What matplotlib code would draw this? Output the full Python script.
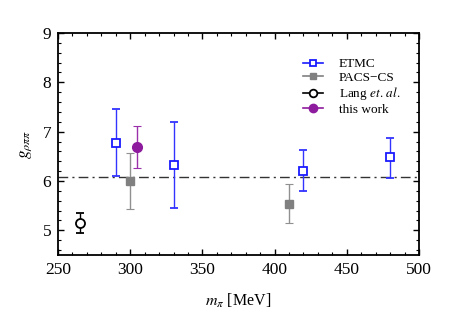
import matplotlib
matplotlib.use("Agg")
import matplotlib.pyplot as plt
from matplotlib.ticker import MultipleLocator
from matplotlib.lines import Line2D

plt.rcParams['font.family'] = ['Liberation Serif', 'DejaVu Serif']
plt.rcParams['mathtext.fontset'] = 'stix'

etmc_x = [290, 330, 420, 480]
etmc_y = [6.78, 6.33, 6.21, 6.48]
etmc_lo = [6.11, 5.46, 5.79, 6.07]
etmc_hi = [7.45, 7.20, 6.62, 6.87]

pacs_x = [300, 410]
pacs_y = [6.00, 5.54]
pacs_lo = [5.44, 5.14]
pacs_hi = [6.56, 5.93]

lang_x = [265]
lang_y = [5.15]
lang_lo = [4.94]
lang_hi = [5.35]

this_x = [305]
this_y = [6.69]
this_lo = [6.26]
this_hi = [7.11]

g_avg = 6.08

c_etmc = '#1a1aff'
c_pacs = '#808080'
c_lang = 'black'
c_this = '#8e1b9e'

fig = plt.figure(figsize=(4.5, 3.19), dpi=100)
ax = fig.add_axes([0.129, 0.2006, 0.802, 0.696])

def errs(y, lo, hi):
    return [[a - b for a, b in zip(y, lo)], [c - a for a, c in zip(y, hi)]]

ax.axhline(g_avg, color='#333333', lw=1.0, dashes=(7, 3, 1.5, 3))

ax.errorbar(etmc_x, etmc_y, yerr=errs(etmc_y, etmc_lo, etmc_hi), fmt='s', mfc='white',
            mec=c_etmc, mew=1.3, ms=5.8, ecolor='#3333ff', elinewidth=1.0, capsize=3,
            capthick=0.8)
ax.errorbar(pacs_x, pacs_y, yerr=errs(pacs_y, pacs_lo, pacs_hi), fmt='s', mfc=c_pacs,
            mec=c_pacs, ms=6, ecolor='#909090', elinewidth=1.0, capsize=3,
            capthick=0.8)
ax.errorbar(lang_x, lang_y, yerr=errs(lang_y, lang_lo, lang_hi), fmt='o', mfc='white',
            mec=c_lang, mew=1.3, ms=6.5, ecolor='black', elinewidth=1.0, capsize=3,
            capthick=0.8)
ax.errorbar(this_x, this_y, yerr=errs(this_y, this_lo, this_hi), fmt='o', mfc=c_this,
            mec=c_this, ms=7, ecolor='#9a30aa', elinewidth=1.0, capsize=3,
            capthick=0.8)

ax.set_xlim(250, 500)
ax.set_ylim(4.5, 9)
ax.xaxis.set_major_locator(MultipleLocator(50))
ax.xaxis.set_minor_locator(MultipleLocator(10))
ax.yaxis.set_major_locator(MultipleLocator(1))
ax.yaxis.set_minor_locator(MultipleLocator(0.2))
ax.tick_params(which='both', direction='in', top=True, right=True, labelsize=12.5)
ax.tick_params(which='major', length=4.5, width=1.0, pad=5)
ax.tick_params(which='minor', length=2.5, width=0.8)
for s in ax.spines.values():
    s.set_linewidth(1.3)

ax.set_xlabel('$m_\\pi$ [MeV]', fontsize=11.5, labelpad=10)
ax.set_ylabel('$g_{\\rho\\pi\\pi}$', fontsize=12.5, labelpad=6)

handles = [
    Line2D([], [], color=c_etmc, marker='s', mfc='white', mec=c_etmc, mew=1.3, ms=5, lw=1.2),
    Line2D([], [], color=c_pacs, marker='s', mfc=c_pacs, mec=c_pacs, ms=5, lw=1.2),
    Line2D([], [], color=c_lang, marker='o', mfc='white', mec=c_lang, mew=1.3, ms=5.5, lw=1.2),
    Line2D([], [], color=c_this, marker='o', mfc=c_this, mec=c_this, ms=6, lw=1.2),
]
labels = ['ETMC', 'PACS\u2212CS', 'Lang $\\it{et.\\,al.}$', 'this work']
leg = ax.legend(handles, labels, loc='upper left', bbox_to_anchor=(0.665, 0.91), frameon=False,
                fontsize=9.5, handlelength=1.5, handletextpad=1.2, labelspacing=0.1,
                borderaxespad=0)

fig.savefig('out.png', dpi=100)
